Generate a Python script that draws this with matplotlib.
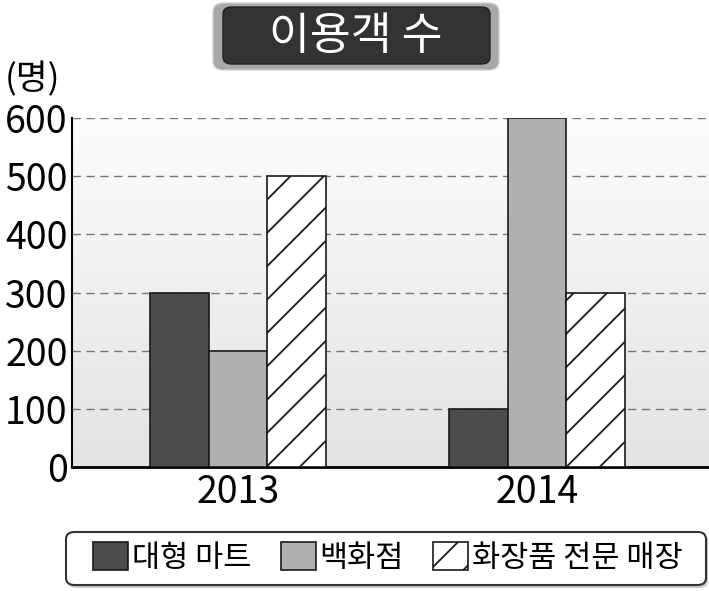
import numpy as np
import matplotlib
matplotlib.use("Agg")
import matplotlib.pyplot as plt
from matplotlib.patches import FancyBboxPatch, Patch

years = ["2013", "2014"]
series_names = ["대형 마트", "백화점", "화장품 전문 매장"]
values = {
    "대형 마트": [300, 100],
    "백화점": [200, 600],
    "화장품 전문 매장": [500, 300],
}
yticks = [0, 100, 200, 300, 400, 500, 600]
title = "이용객 수"
unit = "(명)"

NUM_FONT = ["Noto Sans CJK KR", "DejaVu Sans"]
KR_FONT = ["Noto Sans CJK KR", "DejaVu Sans"]

plt.rcParams["hatch.linewidth"] = 1.3

fig = plt.figure(figsize=(7.09, 5.91), dpi=100)
ax = fig.add_axes([72/709, 1-467/591, 1-72/709, (467-118)/591])

xmin, xmax = -0.555, 1.575
# gradient background (light top, darker bottom)
grad = np.linspace(0, 1, 256).reshape(-1, 1)
cmap = matplotlib.colors.LinearSegmentedColormap.from_list("g", ["#fcfcfc", "#e3e3e3"])
ax.imshow(grad, cmap=cmap, aspect="auto", extent=[xmin, xmax, 0, 600],
          zorder=0, origin="upper")

x = np.arange(len(years))
w = 0.197
styles = [
    dict(facecolor="#4d4d4d", hatch=None),
    dict(facecolor="#b0b0b0", hatch=None),
    dict(facecolor="white", hatch="/"),
]
for i, name in enumerate(series_names):
    ax.bar(x + (i - 1) * w, values[name], width=w, edgecolor="#1a1a1a",
           linewidth=1.2, zorder=3, **styles[i])

ax.set_xlim(xmin, xmax)
ax.set_ylim(0, 600)
ax.set_yticks(yticks)
ax.yaxis.grid(True, linestyle=(0, (6, 4)), color="#777777", linewidth=1.0, zorder=1)
ax.set_axisbelow(True)
ax.set_xticks(x)
ax.set_xticklabels(years, fontfamily=NUM_FONT, fontsize=27)
for lab in ax.get_yticklabels():
    lab.set_fontfamily(NUM_FONT)
    lab.set_fontsize(27)
ax.tick_params(axis="both", length=0, pad=3)
ax.tick_params(axis="x", pad=4)
for s in ["top", "right"]:
    ax.spines[s].set_visible(False)
ax.spines["left"].set_linewidth(1.5)
ax.spines["bottom"].set_linewidth(2.0)

# unit label
fig.text(33/709, 1-80/591, unit, fontfamily=KR_FONT, fontsize=25,
         ha="center", va="center")

# title box
shadow = FancyBboxPatch((213/709, 1-70/591), (499-213)/709, (70-3)/591,
                        boxstyle="round,pad=0,rounding_size=0.015",
                        transform=fig.transFigure, facecolor="#a8a8a8",
                        edgecolor="#cfcfcf", linewidth=1.0)
fig.patches.append(shadow)
inner = FancyBboxPatch((223/709, 1-64/591), (490-223)/709, (64-7)/591,
                       boxstyle="round,pad=0,rounding_size=0.012",
                       transform=fig.transFigure, facecolor="#333333",
                       edgecolor="#222222", linewidth=1.0)
fig.patches.append(inner)
fig.text(356/709, 1-36/591, title, fontfamily=KR_FONT, fontsize=32,
         color="white", ha="center", va="center")

# legend frame (drawn manually)
lshadow = FancyBboxPatch((68/709, 1-588/591), (708-68)/709, (588-534)/591,
                         boxstyle="round,pad=0,rounding_size=0.012",
                         transform=fig.transFigure, facecolor="#c8c8c8",
                         edgecolor="none")
fig.patches.append(lshadow)
lframe = FancyBboxPatch((66/709, 1-585/591), (706-66)/709, (585-532)/591,
                        boxstyle="round,pad=0,rounding_size=0.012",
                        transform=fig.transFigure, facecolor="white",
                        edgecolor="#333333", linewidth=1.5)
fig.patches.append(lframe)

handles = [Patch(facecolor=styles[i]["facecolor"], hatch=styles[i]["hatch"],
                 edgecolor="#1a1a1a", linewidth=1.2) for i in range(3)]
leg = fig.legend(handles, series_names, loc="center", ncol=3,
                 bbox_to_anchor=(388/709, 1-558/591),
                 prop={"family": KR_FONT, "size": 22},
                 handlelength=1.15, handleheight=1.0, handletextpad=0.13,
                 columnspacing=0.95, frameon=False, borderpad=0.0,
                 borderaxespad=0)

fig.savefig("out.png", dpi=100)
